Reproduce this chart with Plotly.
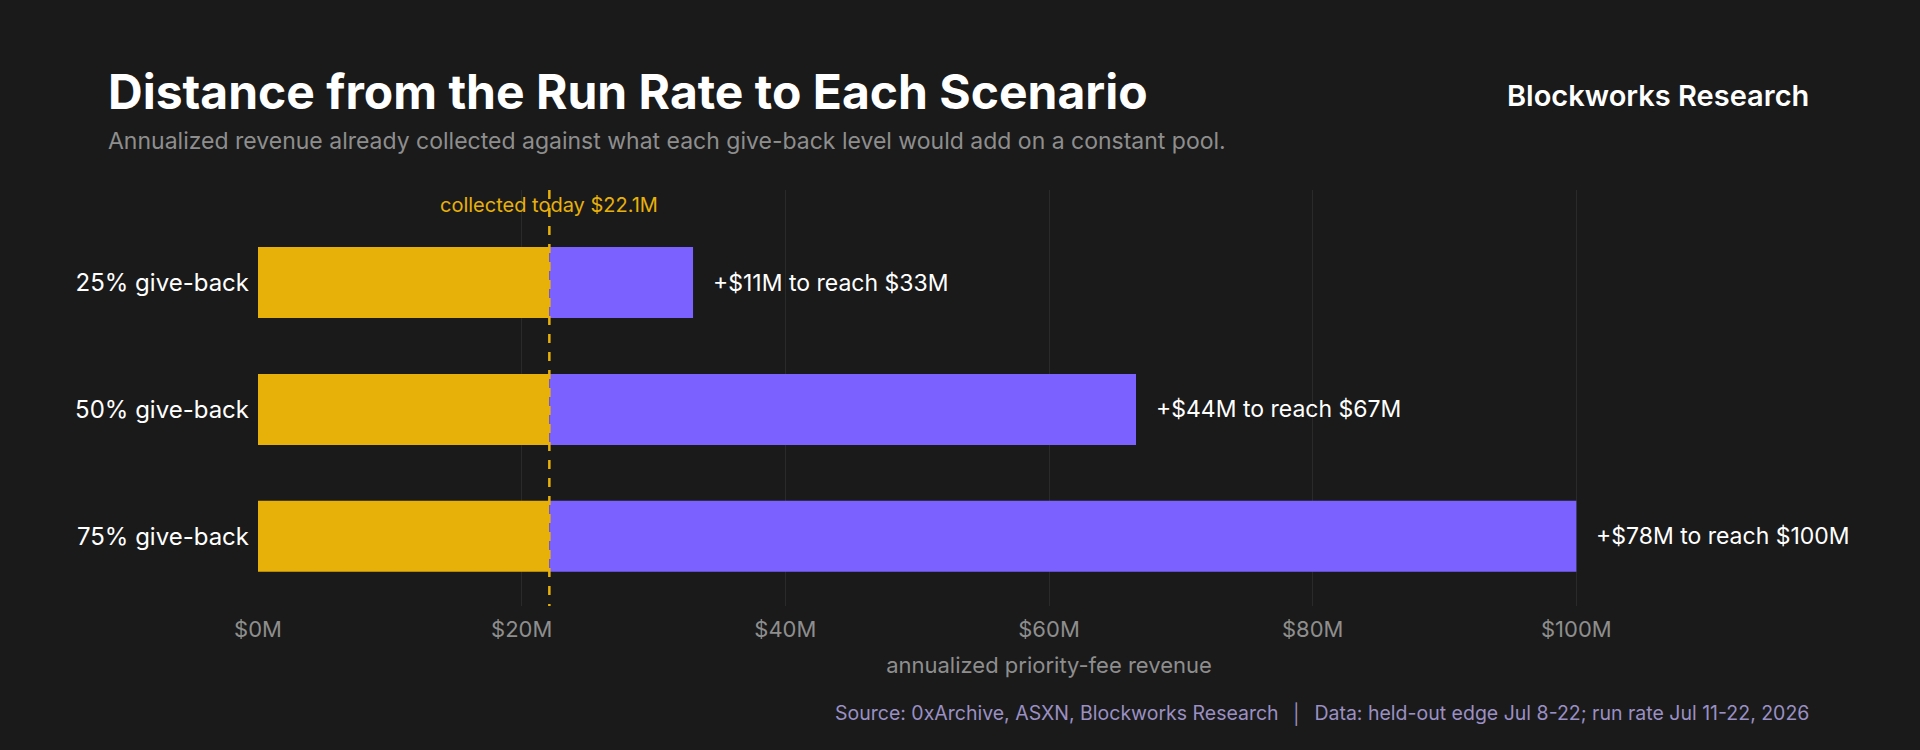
import plotly.graph_objects as go

categories = ["25% give-back", "50% give-back", "75% give-back"]
collected = [22.1, 22.1, 22.1]
totals = [33.0, 66.6, 100.0]
additions = [11, 44, 78]
reach_labels = ["$33M", "$67M", "$100M"]
tick_vals = [0, 20, 40, 60, 80, 100]
tick_text = ["$0M", "$20M", "$40M", "$60M", "$80M", "$100M"]

ypos = list(range(len(categories)))
extra = [t - c for t, c in zip(totals, collected)]
YEL = "#E8B10A"
PUR = "#7B61FF"

fig = go.Figure()
fig.add_trace(go.Bar(y=ypos, x=collected, orientation="h", marker=dict(color=YEL, line=dict(width=0)),
                     width=0.56, hoverinfo="skip", showlegend=False))
fig.add_trace(go.Bar(y=ypos, x=extra, base=collected, orientation="h", marker=dict(color=PUR, line=dict(width=0)),
                     width=0.56, hoverinfo="skip", showlegend=False))
fig.add_shape(type="line", x0=collected[0], x1=collected[0], y0=-0.73, y1=2.57,
              xref="x", yref="y", line=dict(color=YEL, width=2.5, dash="dash"))

anns = []
anns.append(dict(x=collected[0], y=-0.61, xref="x", yref="y", yanchor="middle",
                 text=f"collected today ${collected[0]}M", showarrow=False,
                 font=dict(color=YEL, size=20, family="Inter")))
for yp, t, a, r in zip(ypos, totals, additions, reach_labels):
    anns.append(dict(x=t, y=yp, xref="x", yref="y", xanchor="left", xshift=18,
                     text=f"+${a}M to reach {r}", showarrow=False,
                     font=dict(color="#ffffff", size=23, family="Inter")))

def px(x, y, text, size, color, xanchor="left", weight="normal"):
    return dict(text=text, x=(x - 258) / (1920 - 258 - 80), y=1 - (y - 190) / (750 - 190 - 144),
                xref="paper", yref="paper", showarrow=False, xanchor=xanchor, yanchor="middle",
                font=dict(size=size, color=color, family="Inter", weight=weight))
anns.append(px(106, 92, "Distance from the Run Rate to Each Scenario", 48, "#ffffff", weight=700))
anns.append(px(106, 141, "Annualized revenue already collected against what each give-back level would add on a constant pool.", 23, "#8e8e8e"))
anns.append(px(1811, 95, "Blockworks Research", 29, "#ffffff", xanchor="right", weight=600))
anns.append(px(1811, 713, "Source: 0xArchive, ASXN, Blockworks Research  │  Data: held-out edge Jul 8-22; run rate Jul 11-22, 2026", 19.5, "#9a90c4", xanchor="right"))

fig.update_layout(
    width=1920, height=750, barmode="overlay",
    paper_bgcolor="#1a1a1a", plot_bgcolor="#1a1a1a",
    margin=dict(l=258, r=80, t=190, b=144),
    font=dict(family="Inter", color="#ffffff"),
    xaxis=dict(range=[0, 120], tickvals=tick_vals, ticktext=tick_text,
               showgrid=True, gridcolor="#2a2a2a", zeroline=False,
               tickfont=dict(color="#8e8e8e", size=22), ticks="", ticklabelstandoff=8,
               title=dict(text="annualized priority-fee revenue", standoff=16,
                          font=dict(color="#8e8e8e", size=22))),
    yaxis=dict(range=[2.55, -0.73], tickvals=ypos, ticktext=categories,
               showgrid=False, zeroline=False, ticks="", ticklabelstandoff=8,
               tickfont=dict(color="#ffffff", size=24)),
    annotations=anns,
)

fig.write_html("out.html", config={"displayModeBar": False},
               post_script="document.body.style.margin='0';document.body.style.background='#1a1a1a';")
